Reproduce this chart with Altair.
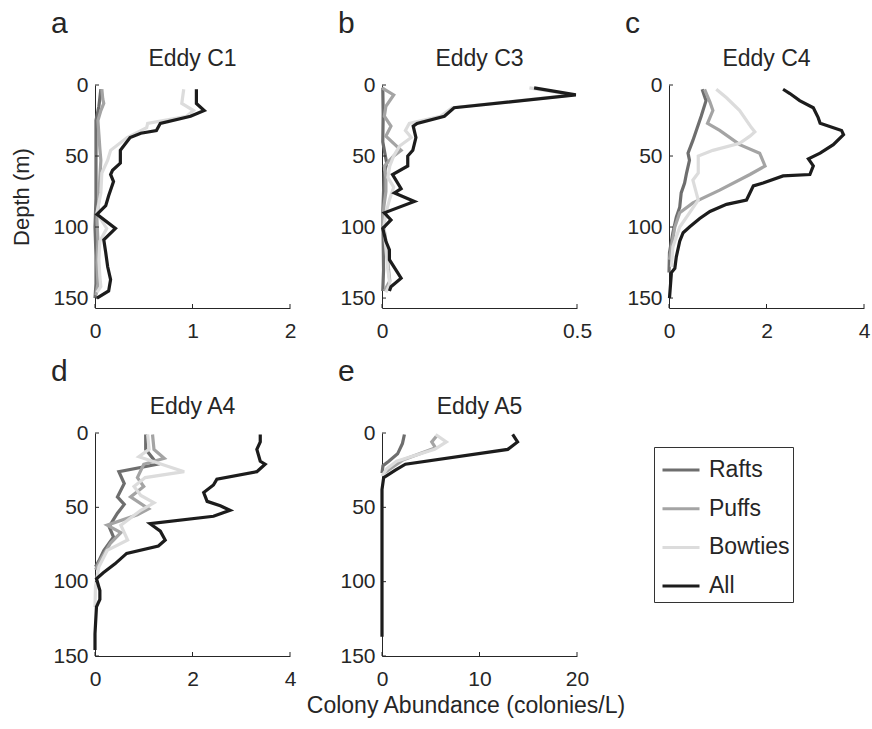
import altair as alt
import pandas as pd

FONT = "Liberation Sans"
TXT = "#262626"
SERIES = ["Rafts", "Puffs", "Bowties", "All"]
COLORS = ["#6e6e6e", "#a4a4a4", "#dcdcdc", "#1c1c1c"]

# ---- Panel a : Eddy C1 ----
a_rafts_depth = [3, 15, 25, 40, 60, 80, 100, 120, 140, 150]
a_rafts_val = [0.06, 0.04, 0.01, 0.01, 0.01, 0.01, 0.0, 0.01, 0.01, 0.0]
a_puffs_depth = [3, 10, 13, 18, 25, 35, 45, 53, 65, 80, 95, 110, 125, 140, 148]
a_puffs_val = [0.07, 0.08, 0.09, 0.06, 0.03, 0.04, 0.05, 0.06, 0.05, 0.04, 0.02, 0.03, 0.02, 0.03, 0.01]
a_bowties_depth = [3, 13, 18, 22, 27, 30, 37, 46, 53, 62, 76, 90, 101, 110, 123, 135, 142, 146]
a_bowties_val = [0.91, 0.89, 1.01, 0.94, 0.54, 0.53, 0.33, 0.16, 0.13, 0.07, 0.06, 0.02, 0.12, 0.05, 0.04, 0.05, 0.06, 0.02]
a_all_depth = [3, 13, 18, 22, 27, 32, 34, 37, 46, 50, 55, 60, 63, 68, 78, 85, 91, 101, 109, 118, 128, 137, 145, 150]
a_all_val = [1.04, 1.04, 1.12, 0.98, 0.67, 0.63, 0.47, 0.36, 0.26, 0.26, 0.26, 0.18, 0.16, 0.19, 0.14, 0.11, 0.02, 0.21, 0.09, 0.11, 0.13, 0.16, 0.14, 0.02]

# ---- Panel b : Eddy C3 ----
b_rafts_depth = [2, 20, 40, 55, 62, 75, 90, 110, 130, 145]
b_rafts_val = [0.002, 0.003, 0.002, 0.012, 0.006, 0.004, 0.002, 0.003, 0.004, 0.002]
b_puffs_depth = [2, 7, 15, 22, 29, 36, 46, 50, 57, 65, 75, 85, 95, 110, 125, 138, 145]
b_puffs_val = [0.0, 0.03, 0.01, 0.006, 0.023, 0.01, 0.049, 0.03, 0.006, 0.01, 0.01, 0.005, 0.002, 0.01, 0.015, 0.02, 0.006]
b_bowties_depth = [2, 7, 16, 22, 27, 32, 37, 43, 50, 57, 65, 72, 80, 90, 100, 115, 130, 140, 146]
b_bowties_val = [0.378, 0.49, 0.18, 0.15, 0.07, 0.06, 0.075, 0.045, 0.03, 0.02, 0.015, 0.03, 0.02, 0.01, 0.005, 0.01, 0.015, 0.02, 0.01]
b_all_depth = [2, 7, 16, 22, 27, 29, 37, 46, 50, 57, 63, 73, 76, 82, 90, 95, 101, 110, 116, 123, 136, 142, 145]
b_all_val = [0.39, 0.497, 0.185, 0.16, 0.09, 0.08, 0.087, 0.079, 0.066, 0.066, 0.027, 0.049, 0.032, 0.083, 0.006, 0.023, 0.002, 0.01, 0.019, 0.019, 0.049, 0.023, 0.019]

# ---- Panel c : Eddy C4 ----
c_rafts_depth = [3, 11, 22, 39, 48, 53, 62, 69, 76, 86, 93, 104, 118, 132]
c_rafts_val = [0.68, 0.76, 0.66, 0.49, 0.39, 0.42, 0.36, 0.32, 0.25, 0.22, 0.15, 0.08, 0.01, 0.0]
c_puffs_depth = [3, 12, 18, 27, 32, 42, 48, 57, 63, 74, 83, 90, 100, 114, 123]
c_puffs_val = [0.73, 0.84, 0.9, 0.79, 1.04, 1.45, 1.86, 1.97, 1.66, 1.04, 0.49, 0.22, 0.12, 0.05, 0.01]
c_bowties_depth = [3, 9, 18, 30, 33, 36, 41, 46, 50, 62, 67, 76, 81, 90, 100, 114, 128]
c_bowties_val = [0.97, 1.18, 1.45, 1.69, 1.76, 1.66, 1.45, 0.9, 0.6, 0.6, 0.49, 0.56, 0.6, 0.42, 0.22, 0.08, 0.05]
c_all_depth = [3, 6, 11, 16, 23, 27, 32, 35, 42, 48, 52, 57, 63, 64, 69, 71, 81, 84, 89, 94, 100, 104, 110, 121, 129, 132, 150]
c_all_val = [2.34, 2.48, 2.68, 2.96, 3.06, 3.1, 3.54, 3.58, 3.37, 3.1, 2.86, 2.96, 2.89, 2.34, 1.93, 1.73, 1.59, 1.18, 0.84, 0.63, 0.42, 0.29, 0.22, 0.15, 0.12, 0.05, 0.01]

# ---- Panel d : Eddy A4 ----
d_rafts_depth = [1, 11, 21, 26, 34, 43, 48, 54, 63, 70, 79, 86, 90]
d_rafts_val = [1.04, 1.04, 1.28, 0.49, 0.6, 0.46, 0.6, 0.46, 0.29, 0.38, 0.18, 0.08, 0.01]
d_puffs_depth = [1, 11, 17, 21, 30, 36, 43, 51, 55, 62, 67, 74, 85, 92]
d_puffs_val = [1.18, 1.21, 1.42, 1.0, 0.87, 1.0, 0.73, 1.1, 0.87, 0.25, 0.53, 0.32, 0.12, 0.01]
d_bowties_depth = [1, 11, 16, 26, 30, 36, 42, 47, 52, 62, 72, 79, 90, 103, 117]
d_bowties_val = [1.08, 1.11, 0.9, 1.83, 1.03, 0.8, 0.94, 1.21, 0.94, 0.53, 0.67, 0.25, 0.08, 0.01, 0.0]
d_all_depth = [1, 6, 11, 19, 21, 26, 31, 35, 40, 46, 49, 52, 56, 61, 66, 72, 76, 81, 88, 94, 98, 106, 112, 117, 135, 146]
d_all_val = [3.39, 3.39, 3.32, 3.39, 3.49, 3.32, 2.5, 2.43, 2.23, 2.3, 2.57, 2.77, 2.43, 1.13, 1.34, 1.44, 1.3, 0.65, 0.41, 0.17, 0.03, 0.1, 0.1, 0.03, 0.0, 0.0]

# ---- Panel e : Eddy A5 ----
e_rafts_depth = [1, 7, 14, 19, 22, 27]
e_rafts_val = [2.3, 2.1, 1.6, 0.7, 0.1, 0.0]
e_puffs_depth = [2, 6, 10, 18, 27]
e_puffs_val = [5.6, 5.1, 5.5, 2.2, 0.2]
e_bowties_depth = [1, 6, 11, 19, 24, 29]
e_bowties_val = [5.5, 6.6, 5.4, 1.5, 0.5, 0.0]
e_all_depth = [1, 6, 11, 21, 25, 30, 38, 60, 90, 120, 137]
e_all_val = [13.4, 13.9, 12.9, 2.4, 1.37, 0.17, 0.0, 0.0, 0.0, 0.0, 0.0]

PANELS = {
    "a": [(a_rafts_depth, a_rafts_val), (a_puffs_depth, a_puffs_val), (a_bowties_depth, a_bowties_val), (a_all_depth, a_all_val)],
    "b": [(b_rafts_depth, b_rafts_val), (b_puffs_depth, b_puffs_val), (b_bowties_depth, b_bowties_val), (b_all_depth, b_all_val)],
    "c": [(c_rafts_depth, c_rafts_val), (c_puffs_depth, c_puffs_val), (c_bowties_depth, c_bowties_val), (c_all_depth, c_all_val)],
    "d": [(d_rafts_depth, d_rafts_val), (d_puffs_depth, d_puffs_val), (d_bowties_depth, d_bowties_val), (d_all_depth, d_all_val)],
    "e": [(e_rafts_depth, e_rafts_val), (e_puffs_depth, e_puffs_val), (e_bowties_depth, e_bowties_val), (e_all_depth, e_all_val)],
}

rows = []
for key, series in PANELS.items():
    for name, (dep, val) in zip(SERIES, series):
        for i, (dd, vv) in enumerate(zip(dep, val)):
            rows.append({"panel": key, "series": name, "depth": dd, "value": vv, "idx": i})
df = pd.DataFrame(rows)

Y_TICKS = [0, 50, 100, 150]
W = 195
H = 223

LEGEND = alt.Legend(
    title=None, orient="none", legendX=559, legendY=362,
    symbolType="stroke", symbolStrokeWidth=3, symbolSize=1369,
    labelFontSize=23, labelFont=FONT, labelColor=TXT, labelOffset=8,
    padding=3, symbolOffset=4, rowPadding=6.7,
    strokeColor="#333333", fillColor="white",
)


def panel(key, title, xdom, xticks, ydom, ytitle=None, xtitle=None):
    d = df[df.panel == key]
    xaxis = dict(values=xticks, title=xtitle, format="~g", labelPadding=12)
    if xtitle:
        xaxis.update(titleFontSize=23, titleBaseline="top", titleY=38, titleX=W / 2 - 14)
    xenc = alt.X("value:Q", scale=alt.Scale(domain=xdom, nice=False, zero=False),
                 axis=alt.Axis(**xaxis))
    yenc = alt.Y("depth:Q", scale=alt.Scale(domain=ydom, reverse=True, nice=False, zero=False),
                 axis=alt.Axis(values=Y_TICKS, title=ytitle, labelPadding=7,
                               titlePadding=19, titleFontSize=22))
    lines = alt.Chart(d).mark_line(strokeWidth=3.2).encode(
        x=xenc, y=yenc,
        color=alt.Color("series:N", scale=alt.Scale(domain=SERIES, range=COLORS), legend=LEGEND),
        order=alt.Order("idx:Q"),
    )
    xt = alt.Chart(pd.DataFrame({"value": xticks})).mark_rule(color=TXT, strokeWidth=1).encode(
        x="value:Q", y=alt.value(H), y2=alt.value(H - 4))
    yt = alt.Chart(pd.DataFrame({"depth": Y_TICKS})).mark_rule(color=TXT, strokeWidth=1).encode(
        y="depth:Q", x=alt.value(0), x2=alt.value(4))
    lt = alt.Chart(pd.DataFrame({"letter": [key]})).mark_text(
        align="left", baseline="alphabetic", fontSize=30, font=FONT, color=TXT
    ).encode(x=alt.value(-44), y=alt.value(-52), text="letter:N")
    tt = alt.Chart(pd.DataFrame({"title": [title]})).mark_text(
        align="center", baseline="alphabetic", fontSize=23, font=FONT, color=TXT
    ).encode(x=alt.value(W / 2), y=alt.value(-19), text="title:N")
    return alt.layer(lines, xt, yt, lt, tt).properties(width=W, height=H)


pa = panel("a", "Eddy C1", [0, 2], [0, 1, 2], [0, 157], ytitle="Depth (m)")
pb = panel("b", "Eddy C3", [0, 0.5], [0, 0.5], [0, 157])
pc = panel("c", "Eddy C4", [0, 4], [0, 2, 4], [0, 157])
pd_ = panel("d", "Eddy A4", [0, 4], [0, 2, 4], [0, 150])
pe = panel("e", "Eddy A5", [0, 20], [0, 10, 20], [0, 150], xtitle="Colony Abundance (colonies/L)")

chart = alt.concat(
    pa, pb, pc, pd_, pe, columns=3, bounds="flush",
    spacing=alt.RowColnumber(row=125, column=92),
).properties(
    padding={"left": 10, "top": 8, "right": 0, "bottom": 2}
).configure(font=FONT).configure_view(stroke="transparent").configure_axis(
    domainColor=TXT, domainWidth=1, labelColor=TXT, titleColor=TXT,
    labelFont=FONT, titleFont=FONT, labelFontSize=21, grid=False, ticks=False,
    labelFlush=False, titleFontWeight="normal", labelOverlap=False,
)

chart.save("out.html", embed_options={"renderer": "svg", "actions": False})
